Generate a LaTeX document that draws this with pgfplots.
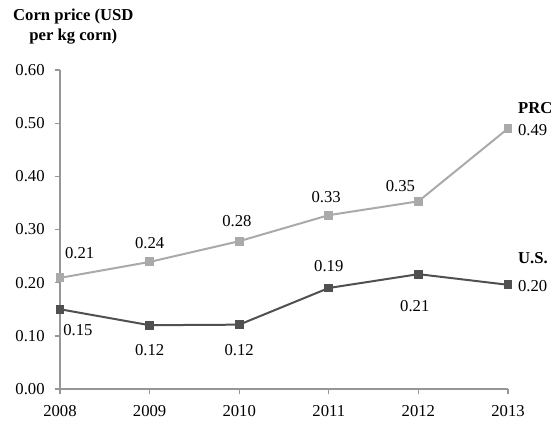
\documentclass[border=0pt]{standalone}
\usepackage{pgfplots}
\pgfplotsset{compat=1.18}
\usepackage{fontspec}
\setmainfont{Liberation Serif}
\definecolor{prc}{RGB}{170,170,170}
\definecolor{us}{RGB}{80,80,80}
\definecolor{axgray}{RGB}{150,150,150}
\newcommand{\fs}{\fontsize{12.5}{15}\selectfont}
\begin{document}
\begin{tikzpicture}
\useasboundingbox (-45pt,-27pt) rectangle (372.75pt,291.75pt);
\begin{axis}[
  at={(0,0)}, anchor=south west,
  scale only axis, width=336pt, height=239.25pt,
  xmin=2008, xmax=2013, ymin=0, ymax=0.6,
  axis lines*=left,
  axis line style={axgray, line width=1pt, -},
  tick style={axgray, line width=1pt},
  tick align=outside, major tick length=4pt,
  xtick={2008,2009,2010,2011,2012,2013},
  xticklabels={2008,2009,2010,2011,2012,2013},
  ytick={0,0.1,0.2,0.3,0.4,0.5,0.6},
  y tick label style={/pgf/number format/fixed, /pgf/number format/fixed zerofill, /pgf/number format/precision=2, /pgf/number format/assume math mode=true, xshift=-4pt},
  ticklabel style={font=\fs},
  x tick label style={yshift=-4.5pt},
  clip=false,
]
\addplot[prc, line width=1.5pt, mark=square*, mark size=2.6pt, mark options={solid}] coordinates {
 (2008,0.209) (2009,0.239) (2010,0.278) (2011,0.327) (2012,0.353) (2013,0.490)};
\addplot[us, line width=1.5pt, mark=square*, mark size=2.6pt, mark options={solid}] coordinates {
 (2008,0.150) (2009,0.120) (2010,0.121) (2011,0.190) (2012,0.216) (2013,0.196)};
\begin{scope}[every node/.style={font=\fs, inner sep=0pt}]
\node at (axis cs:2008.22,0.2556) {0.21};
\node at (axis cs:2009,0.274) {0.24};
\node at (axis cs:2009.975,0.316) {0.28};
\node at (axis cs:2010.97,0.361) {0.33};
\node at (axis cs:2011.80,0.381) {0.35};
\node[anchor=west] at (axis cs:2013.11,0.487) {0.49};
\node[anchor=west, font=\fs\bfseries] at (axis cs:2013.11,0.528) {PRC};
\node at (axis cs:2008.2,0.111) {0.15};
\node at (axis cs:2009,0.073) {0.12};
\node at (axis cs:2010,0.073) {0.12};
\node at (axis cs:2011,0.231) {0.19};
\node at (axis cs:2011.96,0.156) {0.21};
\node[anchor=west] at (axis cs:2013.11,0.194) {0.20};
\node[anchor=west, font=\fs\bfseries] at (axis cs:2013.11,0.246) {U.S.};
\end{scope}
\end{axis}
\node[align=center, font=\fs\bfseries, inner sep=0pt] at (10pt,272pt) {Corn price (USD\\per kg corn)};
\end{tikzpicture}
\end{document}
